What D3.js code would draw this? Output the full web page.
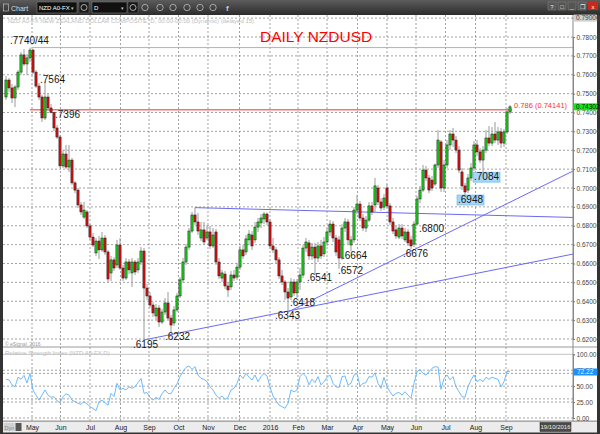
<!DOCTYPE html>
<html>
<head>
<meta charset="utf-8">
<title>Daily NZDUSD</title>
<script src="https://cdn.jsdelivr.net/npm/d3@7"></script>
<style>
	body { margin:0; background:#2b2b2b; }
	svg { display:block; font-family:"Liberation Sans", Arial, sans-serif; }
</style>
</head>
<body>
<div id="chart-area"></div>
<script>
/*
*    daily NZDUSD candles with RSI panel
*    prices are in pips (1 = 0.0001), one candle for about two sessions
*/

var opens = [7482,7572,7530,7477,7535,7614,7705,7657,7689,7731,7614,7540,7482,7371,7482,7424,7400,7318,7270,7117,
	7180,7111,7148,7027,6989,6910,6846,6873,6799,6740,6656,6719,6672,6735,6661,6550,6619,6592,6698,6576,
	6523,6608,6550,6608,6566,6608,6666,6470,6428,6380,6322,6364,6290,6343,6391,6311,6285,6354,6428,6513,
	6608,6687,6772,6857,6820,6735,6778,6735,6767,6693,6767,6608,6523,6544,6481,6476,6539,6528,6581,6672,
	6661,6725,6751,6725,6793,6815,6836,6862,6820,6693,6672,6619,6534,6502,6449,6423,6502,6444,6502,6539,
	6682,6709,6640,6687,6629,6693,6651,6714,6767,6809,6735,6725,6629,6788,6820,6698,6725,6883,6915,6841,
	6788,6830,6905,6910,7000,6926,6899,7000,6905,6820,6778,6740,6788,6725,6767,6725,6703,6809,6942,6989,
	7095,7053,7042,7021,7122,7244,7000,7122,7228,7286,7254,7201,7085,7011,6989,7053,7106,7228,7191,7148,
	7201,7265,7238,7286,7254,7297,7238,7297,7403]
var highs = [7593,7583,7551,7546,7625,7720,7736,7710,7744,7736,7625,7556,7493,7564,7498,7445,7403,7334,7281,7201,
	7228,7228,7159,7037,7000,6926,6926,6883,6809,6762,6735,6746,6767,6751,6672,6640,6634,6725,6735,6592,
	6629,6624,6629,6619,6629,6687,6682,6491,6449,6396,6385,6380,6359,6417,6449,6327,6375,6444,6528,6629,
	6703,6788,6873,6896,6867,6820,6820,6804,6799,6788,6783,6629,6566,6560,6502,6560,6566,6603,6693,6698,
	6751,6778,6772,6820,6841,6862,6873,6870,6836,6735,6687,6634,6566,6513,6470,6523,6518,6518,6576,6698,
	6735,6725,6709,6709,6714,6725,6740,6788,6830,6825,6751,6746,6809,6841,6836,6746,6899,6963,6931,6862,
	6852,6926,6926,7053,7016,6947,6968,7021,6920,6841,6799,6809,6809,6788,6783,6746,6825,6958,7011,7122,
	7117,7069,7064,7130,7307,7254,7148,7254,7307,7318,7276,7222,7106,7027,7074,7132,7249,7254,7212,7222,
	7307,7328,7323,7350,7323,7318,7313,7424,7440]
var lows = [7466,7509,7450,7429,7519,7599,7646,7599,7668,7604,7530,7466,7350,7360,7408,7396,7302,7260,7106,7106,
	7101,7085,7016,6973,6894,6857,6836,6788,6725,6687,6640,6624,6661,6645,6502,6507,6560,6576,6566,6507,
	6513,6544,6476,6539,6550,6592,6195,6407,6364,6317,6301,6264,6279,6327,6301,6232,6269,6343,6417,6497,
	6592,6672,6762,6804,6751,6719,6698,6725,6677,6682,6592,6518,6502,6465,6423,6460,6507,6513,6566,6624,
	6645,6698,6672,6709,6767,6788,6809,6804,6677,6656,6603,6518,6486,6407,6343,6407,6428,6418,6460,6523,
	6661,6619,6619,6541,6608,6624,6634,6693,6746,6714,6640,6572,6619,6767,6703,6664,6709,6862,6825,6772,
	6767,6820,6857,6873,6910,6878,6883,6894,6804,6756,6730,6730,6730,6714,6693,6676,6687,6799,6920,6979,
	7037,6973,6984,7011,7106,6979,6979,7106,7201,7217,7185,7079,6989,6948,6973,7037,7090,7170,7132,7084,
	7185,7222,7222,7238,7228,7212,7217,7286,7392]
var closes = [7572,7530,7477,7535,7614,7705,7657,7689,7731,7614,7540,7482,7371,7482,7424,7400,7318,7270,7117,7180,
	7111,7148,7027,6989,6910,6873,6883,6799,6740,6698,6719,6672,6735,6661,6518,6619,6576,6698,6576,6523,
	6608,6566,6608,6555,6608,6666,6470,6428,6380,6338,6364,6290,6343,6391,6311,6274,6354,6428,6513,6608,
	6687,6772,6857,6820,6772,6778,6714,6767,6693,6751,6608,6534,6550,6481,6460,6539,6523,6581,6672,6640,
	6730,6756,6693,6793,6820,6841,6862,6820,6693,6672,6619,6534,6502,6449,6417,6502,6444,6502,6539,6682,
	6714,6640,6687,6629,6693,6640,6714,6767,6809,6735,6661,6629,6788,6820,6725,6725,6883,6915,6841,6788,
	6830,6905,6873,7011,6926,6894,6947,6905,6820,6772,6746,6788,6746,6767,6709,6693,6809,6942,6989,7095,
	7053,6989,7000,7122,7254,7000,7122,7228,7286,7254,7201,7095,7011,6979,7053,7106,7228,7191,7148,7201,
	7265,7238,7286,7254,7297,7238,7297,7403,7430]

// relative strength index, same candles
var rsi = [60.7,60,52,49,64,61,67,55,70,44,36,28,36,44,36,32.5,33.5,27,24,33.5,
	38,36,28,25.6,23,21.5,25.6,22,17.8,15,11.5,25.6,28,24,20,38.7,33.5,54.4,44,46.6,
	44,49,46.6,49,55.5,62,38.7,40,32.5,28,32.5,29.3,38,44,38.7,38,46.6,53.4,65,72.7,
	79.5,81.6,76.4,80.6,67.5,62.3,60.7,57,49,44,36,30.9,34.5,29.3,32.5,44,46.6,54.4,67.5,62.3,
	70,64,59.6,67.5,57,65,70,66,49,34.5,27,20.4,17.8,15.2,23,44,41,44,65,70,
	65,52,61,55.5,65,52,57,64,67.5,54.4,49,48,65,66,52,54.4,67.5,70,50,54.4,
	55.5,65,64,71,54.4,46.6,64,49,41.3,34.5,38.7,40,36,41.3,36,30.9,54.4,72.7,76.4,70,
	67.5,72.7,78,80.6,80,45,62,67.5,60,65,49,41.3,33.5,32.5,49,59.6,67.5,57,60.7,57,
	64,60.7,64,62.3,60.7,49,57,72.7,73]

// x axis, month labels sit on candle index positions
var monthLabels = ["May","Jun","Jul","Aug","Sep","Oct","Nov","Dec","2016","Feb","Mar","Apr","May","Jun","Jul","Aug","Sep"]
var monthIdx = [8.67,18.17,28,38.17,47.67,57.5,67.33,77.83,88,97.33,107,117.17,127,136.67,146.5,156.5,166.67]

var priceTicks = d3.range(6200, 7901, 100)
var rsiTicks = [0, 25, 50, 75, 100]
var rsiLevels = [0, 25, 30, 50, 70, 75]

// swing labels
var pivotLabels = [".7740/44",".7564",".7396",".6195",".6232",".6343",".6418",".6541",".6572",".6664",".6676",".6800",".7084",".6948"]
var pivotIdx = [8,13,15,46,55,94,97,103,111,115,135,137,159,153]
var pivotPrice = [7744,7564,7396,6195,6232,6343,6418,6541,6572,6664,6676,6800,7084,6948]
var pivotBoxed = [false,false,false,false,false,false,false,false,false,false,false,false,true,true]

// trend lines [index, price]
var trendFrom = [[63, 6896], [46, 6195], [94, 6343]]
var trendTo = [[189, 6844], [189, 6650], [189, 7090]]

var fibLevel = 7414.1, fibStart = 8, fibEnd = 168.7
var highLevel = 7744, highStart = 8.67
var lastPrice = 7430.2, lastRsi = 72.22

var N = closes.length
var up = "#14d414", down = "#dc1010"

// label placement, kept apart from the values
var pivotOffset = [[-20,-3.6],[-5,1.5],[4,4.7],[-11,8],[-6,7],[-13,7],[-7,8],[-8,6.4],[-1,5.2],[-9,7.6],[-8,7.8],[2,6.4],[-9,8],[-7,5.2]]

var W = 600, H = 434
var plotL = 3, plotR = 573, priceTop = 15, priceBot = 347, rsiBot = 421

var svg = d3.select("#chart-area")
	.append("svg")
		.attr("width", W)
		.attr("height", H)

var defs = svg.append("defs")
var grad = defs.append("linearGradient").attr("id", "bar").attr("x1", 0).attr("x2", 0).attr("y1", 0).attr("y2", 1)
grad.append("stop").attr("offset", "0%").attr("stop-color", "#5c5c5c")
grad.append("stop").attr("offset", "100%").attr("stop-color", "#2c2c2c")
defs.append("clipPath").attr("id", "clipPrice")
	.append("rect").attr("x", plotL).attr("y", priceTop).attr("width", plotR - plotL).attr("height", priceBot - priceTop)
defs.append("clipPath").attr("id", "clipRsi")
	.append("rect").attr("x", plotL).attr("y", priceBot).attr("width", plotR - plotL).attr("height", rsiBot - priceBot)

// window frame
svg.append("rect").attr("width", W).attr("height", H).attr("fill", "#333")
svg.append("rect").attr("x", 0).attr("y", 0).attr("width", W).attr("height", 15).attr("fill", "url(#bar)")
svg.append("rect").attr("x", plotL).attr("y", priceTop).attr("width", 594).attr("height", rsiBot - priceTop).attr("fill", "#fff")

// toolbar
var tb = svg.append("g").attr("font-size", "6.5px")
tb.append("rect").attr("x", 3.5).attr("y", 4).attr("width", 5).attr("height", 7).attr("fill", "none").attr("stroke", "#bbb").attr("stroke-width", 0.7)
tb.append("text").attr("x", 11).attr("y", 10.5).attr("fill", "#ddd").attr("font-size", "7px").text("Chart")
tb.append("rect").attr("x", 37).attr("y", 2).attr("width", 40).attr("height", 11).attr("fill", "#101010").attr("stroke", "#777").attr("stroke-width", 0.6)
tb.append("text").attr("x", 39).attr("y", 10).attr("fill", "#fff").attr("font-size", "6px").text("NZD A0-FX")
tb.append("text").attr("x", 71).attr("y", 10).attr("fill", "#ccc").attr("font-size", "5px").text("▾")
tb.append("rect").attr("x", 92).attr("y", 2).attr("width", 35).attr("height", 11).attr("fill", "#101010").attr("stroke", "#777").attr("stroke-width", 0.6)
tb.append("text").attr("x", 94).attr("y", 10).attr("fill", "#fff").attr("font-size", "6px").text("D")
tb.append("text").attr("x", 121).attr("y", 10).attr("fill", "#ccc").attr("font-size", "5px").text("▾")
;[84, 133].forEach(cx => {
	tb.append("rect").attr("x", cx - 5).attr("y", 2).attr("width", 10).attr("height", 11).attr("fill", "#181818").attr("stroke", "#666").attr("stroke-width", 0.5)
	tb.append("circle").attr("cx", cx).attr("cy", 7.5).attr("r", 3).attr("fill", "none").attr("stroke", "#ccc").attr("stroke-width", 0.8)
})
;[145, 160, 173, 187, 200, 213].forEach(cx => {
	tb.append("circle").attr("cx", cx).attr("cy", 7.5).attr("r", 3.2).attr("fill", "none").attr("stroke", "#bbb").attr("stroke-width", 0.8)
})
tb.append("text").attr("x", 226).attr("y", 11).attr("fill", "#ccc").attr("font-size", "8px").attr("font-weight", "bold").text("f")
;["?", "□", "_", "❐"].forEach((s, i) => {
	tb.append("rect").attr("x", 548 + i * 10).attr("y", 2).attr("width", 8).attr("height", 8).attr("fill", "#555").attr("stroke", "#888").attr("stroke-width", 0.5)
	tb.append("text").attr("x", 552 + i * 10).attr("y", 8.5).attr("text-anchor", "middle").attr("fill", "#eee").attr("font-size", "6px").text(s)
})
tb.append("rect").attr("x", 588).attr("y", 2).attr("width", 10).attr("height", 8).attr("fill", "#c8281e")
tb.append("text").attr("x", 593).attr("y", 8.5).attr("text-anchor", "middle").attr("fill", "#fff").attr("font-size", "6px").text("x")

// scales
var x = d3.scaleLinear().domain([0, N - 1]).range([6, 510])
var y = d3.scaleLinear().domain([6200, 7800]).range([339, 37])
var yR = d3.scaleLinear().domain([0, 100]).range([418, 354.3])

// grid
var grid = svg.append("g").attr("stroke", "#8c8c8c").attr("stroke-dasharray", "2,2").attr("stroke-width", 0.8)
grid.selectAll(".hg").data(priceTicks).enter().append("line")
	.attr("x1", plotL).attr("x2", plotR)
	.attr("y1", d => y(d)).attr("y2", d => y(d))
grid.selectAll(".vg").data(monthIdx).enter().append("line")
	.attr("x1", d => x(d)).attr("x2", d => x(d))
	.attr("y1", priceTop).attr("y2", rsiBot)
grid.selectAll(".rg").data(rsiLevels).enter().append("line")
	.attr("x1", plotL).attr("x2", plotR)
	.attr("y1", d => yR(d)).attr("y2", d => yR(d))
svg.append("line").attr("x1", plotL).attr("x2", plotR).attr("y1", yR(100)).attr("y2", yR(100)).attr("stroke", "#c4c4c4")

// panel separator
svg.append("line").attr("x1", plotL).attr("x2", 597).attr("y1", priceBot).attr("y2", priceBot).attr("stroke", "#999").attr("stroke-width", 1.2)
svg.append("line").attr("x1", plotL).attr("x2", 597).attr("y1", rsiBot).attr("y2", rsiBot).attr("stroke", "#999")

// header texts
svg.append("text").attr("x", 8).attr("y", 23).attr("font-size", "6px").attr("fill", "#bdbdbd")
	.text("NZD A0-FX   NEW ZEALAND DOLLAR COMPOSITE, D, 00:00-00:00 (Dynamic) (delayed 15)")
svg.append("text").attr("x", 5).attr("y", 345.5).attr("font-size", "5px").attr("fill", "#999").text("© eSignal, 2016")
svg.append("text").attr("x", 5).attr("y", 355).attr("font-size", "6px").attr("fill", "#bdbdbd").text("Relative Strength Index (NZD A0-FX,D)")

var plot = svg.append("g").attr("clip-path", "url(#clipPrice)")

// level lines
plot.append("line")
	.attr("x1", x(highStart)).attr("x2", plotR)
	.attr("y1", y(highLevel)).attr("y2", y(highLevel))
	.attr("stroke", "#b4b4b4")
plot.append("line")
	.attr("x1", x(fibStart)).attr("x2", x(fibEnd))
	.attr("y1", y(fibLevel)).attr("y2", y(fibLevel))
	.attr("stroke", "#ff2a2a")

// trend lines
plot.selectAll(".trend").data(trendFrom).enter().append("line")
	.attr("x1", d => x(d[0])).attr("y1", d => y(d[1]))
	.attr("x2", (d, i) => x(trendTo[i][0])).attr("y2", (d, i) => y(trendTo[i][1]))
	.attr("stroke", "#6a6af2").attr("stroke-width", 1)

// candles
var candles = plot.selectAll(".candle").data(d3.range(N)).enter().append("g")
candles.append("line")
	.attr("x1", i => x(i)).attr("x2", i => x(i))
	.attr("y1", i => y(highs[i])).attr("y2", i => y(lows[i]))
	.attr("stroke", "#9a9a9a").attr("stroke-width", 1)
candles.append("rect")
	.attr("x", i => x(i) - 1.1)
	.attr("width", 2.2)
	.attr("y", i => y(Math.max(opens[i], closes[i])))
	.attr("height", i => Math.max(0.8, Math.abs(y(opens[i]) - y(closes[i]))))
	.attr("fill", i => closes[i] >= opens[i] ? up : down)
	.attr("stroke", "#1a1a1a").attr("stroke-width", 0.5)

// title
svg.append("text").attr("x", 260).attr("y", 42).attr("font-size", "15.5px").attr("fill", "#ff0000").text("DAILY NZDUSD")

// swing labels
var pl = svg.append("g").attr("font-size", "10px").attr("fill", "#151515")
pivotLabels.forEach((t, i) => {
	var lx = x(pivotIdx[i]) + pivotOffset[i][0]
	var ly = y(pivotPrice[i]) + pivotOffset[i][1]
	if (pivotBoxed[i]) {
		pl.append("rect").attr("x", lx - 1).attr("y", ly - 8).attr("width", 27).attr("height", 10)
			.attr("fill", "#a6d6f8").attr("stroke", "#62b2ec").attr("stroke-width", 0.6)
	}
	pl.append("text").attr("x", lx).attr("y", ly).text(t)
})

// fib label
svg.append("text")
	.attr("x", x(fibEnd) + 2).attr("y", y(fibLevel) - 1.5)
	.attr("font-size", "7.5px").attr("fill", "#ff3030")
	.text("0.786 (" + (fibLevel / 10000).toFixed(5) + ")")

// rsi line
svg.append("g").attr("clip-path", "url(#clipRsi)")
	.append("path")
	.attr("d", d3.line().x((d, i) => x(i)).y(d => yR(d))(rsi))
	.attr("fill", "none").attr("stroke", "#5cb2ff").attr("stroke-width", 0.9)

// right axes
var yAxisCall = d3.axisRight(y)
	.tickValues(priceTicks)
	.tickSize(2)
	.tickPadding(1.5)
	.tickFormat(d => (d / 10000).toFixed(5))
var ya = svg.append("g").attr("transform", "translate(" + plotR + ",0)").call(yAxisCall)
var yRAxisCall = d3.axisRight(yR)
	.tickValues(rsiTicks)
	.tickSize(2)
	.tickPadding(1.5)
	.tickFormat(d => d.toFixed(2))
var yra = svg.append("g").attr("transform", "translate(" + plotR + ",0)").call(yRAxisCall)
;[ya, yra].forEach(a => {
	a.selectAll("text").attr("font-size", "6.5px").attr("fill", "#444").attr("font-family", "'Liberation Sans', Arial, sans-serif")
	a.selectAll("line").attr("stroke", "#777")
	a.select(".domain").attr("stroke", "#888")
})
svg.append("line").attr("x1", plotR).attr("x2", plotR).attr("y1", priceTop).attr("y2", rsiBot).attr("stroke", "#888")

// value flags
svg.append("rect").attr("x", 573.5).attr("y", y(7900) - 3.5).attr("width", 23).attr("height", 7).attr("fill", "#cfcfcf")
svg.append("text").attr("x", 576).attr("y", y(7900) + 2.2).attr("font-size", "6.5px").attr("fill", "#444").text("0.79000")
svg.append("rect").attr("x", 573.5).attr("y", y(lastPrice) - 3.5).attr("width", 24).attr("height", 7).attr("fill", "#19e619")
svg.append("text").attr("x", 576).attr("y", y(lastPrice) + 2.3).attr("font-size", "6.5px").attr("fill", "#111").text((lastPrice / 10000).toFixed(5))
svg.append("rect").attr("x", 573.5).attr("y", yR(lastRsi) - 3.5).attr("width", 24).attr("height", 7).attr("fill", "#1e8fff")
svg.append("text").attr("x", 577).attr("y", yR(lastRsi) + 2.3).attr("font-size", "6.5px").attr("fill", "#e8f4ff").text(lastRsi.toFixed(2))

// bottom axis strip
svg.append("rect").attr("x", plotL).attr("y", rsiBot + 0.5).attr("width", 594).attr("height", 11).attr("fill", "#ececec")
var xAxisCall = d3.axisBottom(x)
	.tickValues(monthIdx)
	.tickSize(0)
	.tickPadding(4)
	.tickFormat((d, i) => monthLabels[i])
var xa = svg.append("g").attr("transform", "translate(0," + rsiBot + ")").call(xAxisCall)
xa.select(".domain").remove()
xa.selectAll("text").attr("font-size", "7px").attr("fill", "#222").attr("font-family", "'Liberation Sans', Arial, sans-serif")

svg.append("rect").attr("x", 3.5).attr("y", 423).attr("width", 11).attr("height", 8).attr("fill", "#d0d0d0")
svg.append("text").attr("x", 4.5).attr("y", 429.5).attr("font-size", "5.5px").attr("fill", "#888").text("Dyn")
svg.append("rect").attr("x", 15.5).attr("y", 423).attr("width", 6).attr("height", 8).attr("fill", "#555")
svg.append("rect").attr("x", 540).attr("y", 422.5).attr("width", 31).attr("height", 9).attr("fill", "#4a4a4a").attr("stroke", "#222").attr("stroke-width", 0.5)
svg.append("text").attr("x", 555.5).attr("y", 429.3).attr("text-anchor", "middle").attr("font-size", "6px").attr("fill", "#eee").text("19/10/2016")
</script>
</body>
</html>
